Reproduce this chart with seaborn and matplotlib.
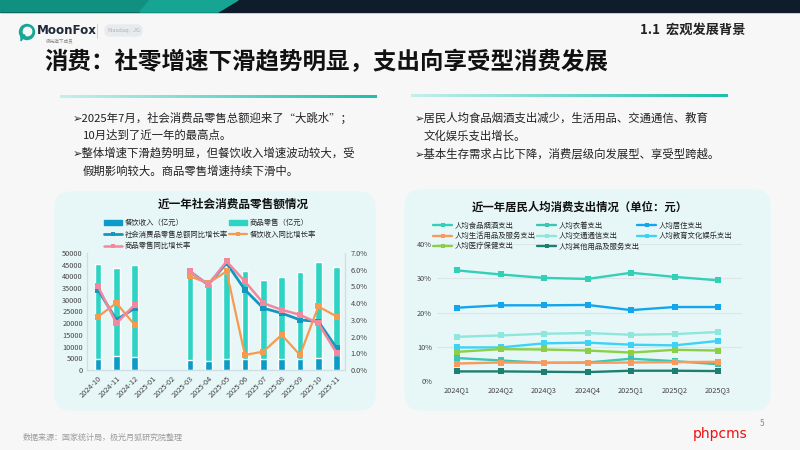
import numpy as np
import pandas as pd
import matplotlib.pyplot as plt
import seaborn as sns
from matplotlib.patches import FancyBboxPatch, Rectangle, Polygon, Circle, Patch
from matplotlib.lines import Line2D
from matplotlib.colors import LinearSegmentedColormap

sns.set_theme(style='white')
plt.rcParams['font.family'] = ['Noto Sans CJK SC', 'DejaVu Sans']
plt.rcParams['axes.unicode_minus'] = False

# ---- left chart data: retail sales (100m yuan) and yoy growth (%)
months = ['2024-10', '2024-11', '2024-12', '2025-01', '2025-02', '2025-03', '2025-04',
          '2025-05', '2025-06', '2025-07', '2025-08', '2025-09', '2025-10', '2025-11']
catering = [4700, 6000, 5700, None, None, 4300, 4000, 4700, 4700, 4700, 4700, 4700, 5100, 6400]
commodity = [40600, 37600, 39300, None, None, 36400, 33100, 36700, 37700, 33900, 34900, 37200, 41000, 37600]
retail_yoy = [4.8, 3.0, 3.7, None, None, 5.9, 5.1, 6.4, 4.8, 3.7, 3.4, 3.0, 2.9, 1.3]
catering_yoy = [3.2, 4.0, 2.7, None, None, 5.6, 5.2, 5.9, 0.9, 1.1, 2.1, 0.9, 3.8, 3.2]
commodity_yoy = [5.0, 2.8, 3.9, None, None, 5.9, 5.1, 6.5, 5.3, 4.0, 3.6, 3.3, 2.8, 1.0]

# ---- right chart data: share of per-capita spending (%)
quarters = ['2024Q1', '2024Q2', '2024Q3', '2024Q4', '2025Q1', '2025Q2', '2025Q3']
food = [32.3, 31.1, 30.1, 29.8, 31.6, 30.4, 29.4]
clothing = [6.7, 6.0, 5.3, 5.4, 6.5, 5.8, 4.9]
housing = [21.4, 22.1, 22.1, 22.2, 20.7, 21.6, 21.6]
household = [5.1, 5.4, 5.3, 5.3, 5.4, 5.5, 5.6]
transport = [12.9, 13.3, 13.8, 14.0, 13.5, 13.7, 14.3]
education = [9.8, 9.8, 11.0, 11.2, 10.6, 10.4, 11.7]
medical = [8.5, 9.3, 9.2, 8.9, 8.3, 9.1, 8.9]
other = [2.8, 2.8, 2.7, 2.6, 3.0, 3.0, 2.9]

series_names = ['人均食品烟酒支出', '人均衣着支出', '人均居住支出', '人均生活用品及服务支出',
                '人均交通通信支出', '人均教育文化娱乐支出', '人均医疗保健支出', '人均其他用品及服务支出']
series_vals = [food, clothing, housing, household, transport, education, medical, other]
series_colors = ['#33cfb6', '#3ac6b0', '#12a6ec', '#f79a5e', '#8fe6dc', '#3cd3f7', '#8ccf47', '#1c7f72']

W, H = 800, 450
def fx(x): return x / W
def fy(y): return 1 - y / H

fig = plt.figure(figsize=(8, 4.5), dpi=100)

# background canvas in pixel coordinates
bg = fig.add_axes([0, 0, 1, 1])
bg.set_zorder(-5)
bg.set_xlim(0, W)
bg.set_ylim(H, 0)
bg.axis('off')
bg.add_patch(Rectangle((0, 0), W, H, color='#f7f7f7', zorder=0))

# header band
bg.add_patch(Rectangle((0, 0), W, 12, color='#0e1c2b', zorder=1))
bg.add_patch(Polygon([(0, 0), (238, 0), (218, 12), (0, 12)], color='#10907f', zorder=2))
bg.add_patch(Polygon([(150, 0), (238, 0), (218, 12), (140, 12)], color='#17a593', zorder=2))

# logo
bg.add_patch(Circle((27, 32), 7.5, color='#16a896', zorder=3))
bg.add_patch(Circle((27.5, 31.5), 4.2, color='#f7f7f7', zorder=4))
bg.add_patch(Polygon([(21, 35), (25, 35), (21, 41)], color='#16a896', zorder=5))
bg.text(37, 31, 'MoonFox', fontsize=8.6, fontweight='bold', color='#1f2a36', va='center', family='DejaVu Sans')
bg.text(46, 41, '极光旗下成员', fontsize=3.3, color='#888888', va='center')
bg.plot([97, 97], [24, 38], color='#cccccc', lw=0.6)
bg.add_patch(FancyBboxPatch((105, 25), 37, 11, boxstyle='round,pad=0,rounding_size=5',
                            color='#e8ebee', zorder=3))
bg.text(123.5, 30.5, 'Nasdaq : JG', fontsize=4.2, color='#a8b0b8', ha='center', va='center', zorder=4)

bg.text(745, 30, '1.1  宏观发展背景', fontsize=9.5, fontweight='bold', color='#222222', ha='right', va='center')
bg.text(44, 62, '消费：社零增速下滑趋势明显，支出向享受型消费发展', fontsize=16.9, fontweight='bold',
        color='#111111', va='center')

# gradient separator lines
grad = LinearSegmentedColormap.from_list('g', ['#c4f0ea', '#1dbfae'])
gv = np.linspace(0, 1, 256).reshape(1, -1)
bg.imshow(gv, cmap=grad, extent=(60, 377, 98.5, 95.5), aspect='auto', zorder=3)
bg.imshow(gv, cmap=grad, extent=(411, 728, 97.5, 94.5), aspect='auto', zorder=3)
bg.set_xlim(0, W)
bg.set_ylim(H, 0)

fam = ['Noto Sans CJK SC', 'DejaVu Sans']
txt = dict(fontsize=8.2, color='#222222', va='center', family=fam)
bg.text(73, 118, '➢2025年7月，社会消费品零售总额迎来了“大跳水”；', **txt)
bg.text(83, 135, '10月达到了近一年的最高点。', **txt)
bg.text(73, 153, '➢整体增速下滑趋势明显，但餐饮收入增速波动较大，受', **txt)
bg.text(83, 171, '假期影响较大。商品零售增速持续下滑中。', **txt)
bg.text(415, 118, '➢居民人均食品烟酒支出减少，生活用品、交通通信、教育', **txt)
bg.text(424, 136, '文化娱乐支出增长。', **txt)
bg.text(415, 154, '➢基本生存需求占比下降，消费层级向发展型、享受型跨越。', **txt)

# chart panels
bg.add_patch(FancyBboxPatch((55, 192), 320, 218, boxstyle='round,pad=0,rounding_size=16',
                            color='#e7f7f7', zorder=1))
bg.add_patch(FancyBboxPatch((405, 190), 365, 220, boxstyle='round,pad=0,rounding_size=16',
                            color='#e7f7f7', zorder=1))
bg.text(233, 204, '近一年社会消费品零售额情况', fontsize=8.4, fontweight='bold', color='#111111',
        ha='center', va='center')
bg.text(580, 207, '近一年居民人均消费支出情况（单位：元）', fontsize=8.2, fontweight='bold', color='#111111',
        ha='center', va='center')

# footer
bg.text(23, 437, '数据来源：国家统计局，极光月狐研究院整理', fontsize=5.8, color='#9a9a9a', va='center')
bg.text(760, 424, '5', fontsize=6, color='#888888', va='center')
bg.text(693, 434, 'phpcms', fontsize=10, color='#ee1111', va='center', family='DejaVu Sans')

# ---- left chart
c_comm = '#2dd3c3'
c_cat = '#0a9bc6'
c_ret = '#1596bf'
c_orange = '#f79a50'
c_pink = '#f2879d'

df_bar = pd.DataFrame({'month': months, 'catering': catering, 'commodity': commodity})
df_bar = df_bar.dropna()
df_bar['stack_top'] = df_bar['catering'] + df_bar['commodity']

ax1 = fig.add_axes([fx(87), fy(370), (345 - 87) / W, (370 - 253) / H])
ax1.patch.set_visible(False)
sns.barplot(data=df_bar, x='month', y='stack_top', order=months, color=c_comm, width=0.36,
            saturation=1, ax=ax1)
sns.barplot(data=df_bar, x='month', y='catering', order=months, color=c_cat, width=0.36,
            saturation=1, ax=ax1)

df_line = pd.DataFrame({'pos': np.arange(len(months)), 'retail': retail_yoy,
                        'cat': catering_yoy, 'comm': commodity_yoy})
df_line['seg'] = df_line['retail'].isna().cumsum()
df_line = df_line.dropna()

ax2 = ax1.twinx()
for col, c, lw in [('retail', c_ret, 2.0), ('cat', c_orange, 1.6), ('comm', c_pink, 1.8)]:
    sns.lineplot(data=df_line, x='pos', y=col, units='seg', estimator=None, color=c, lw=lw,
                 marker='s', markersize=4, markeredgewidth=0, legend=False, ax=ax2)

ax1.set_ylim(0, 50000)
ax1.set_yticks(np.arange(0, 50001, 5000))
ax2.set_ylim(0, 7)
ax2.set_yticks(np.arange(0, 8, 1))
ax2.set_yticklabels([f'{v:.1f}%' for v in range(8)])
ax1.set_xticks(range(len(months)))
ax1.set_xticklabels(months, rotation=45, ha='right', rotation_mode='anchor')
ax1.set_xticks(np.arange(-0.5, len(months), 1), minor=True)
ax1.set_xlim(-0.6, 13.45)
for a in (ax1, ax2):
    a.set_xlabel('')
    a.set_ylabel('')
    for s in a.spines.values():
        s.set_color('#cfdde4')
        s.set_linewidth(0.8)
    a.spines['top'].set_visible(False)
ax1.tick_params(axis='x', which='major', length=0, labelsize=5.3, labelcolor='#444444', pad=3)
ax1.tick_params(axis='x', which='minor', length=2.5, color='#cfdde4', width=0.6)
ax1.tick_params(axis='y', length=0, labelsize=5.3, labelcolor='#444444', pad=3)
ax2.tick_params(axis='y', length=0, labelsize=5.3, labelcolor='#444444', pad=4)

leg_kw = dict(loc='upper left', frameon=False, fontsize=5.3, borderpad=0, borderaxespad=0,
              handletextpad=0.4, labelspacing=0.5, handlelength=2.4)
h_cat = Patch(color=c_cat)
h_comm = Patch(color=c_comm)
h_ret = Line2D([], [], color=c_ret, lw=2.0, marker='s', markersize=3.5, markeredgewidth=0)
h_oy = Line2D([], [], color=c_orange, lw=1.6, marker='s', markersize=3.5, markeredgewidth=0)
h_py = Line2D([], [], color=c_pink, lw=1.8, marker='s', markersize=3.5, markeredgewidth=0)
fig.legend([h_cat, h_ret, h_py], ['餐饮收入（亿元）', '社会消费品零售总额同比增长率', '商品零售同比增长率'],
           bbox_to_anchor=(fx(104), fy(219)), **leg_kw)
fig.legend([h_comm, h_oy], ['商品零售（亿元）', '餐饮收入同比增长率'],
           bbox_to_anchor=(fx(229), fy(219)), **leg_kw)

# ---- right chart
df_r = pd.concat([pd.DataFrame({'quarter': quarters, 'share': v, 'series': n})
                  for n, v in zip(series_names, series_vals)], ignore_index=True)
pal = dict(zip(series_names, series_colors))

ax3 = fig.add_axes([fx(437), fy(381), (742 - 437) / W, (381 - 244) / H])
ax3.patch.set_visible(False)
sns.lineplot(data=df_r, x='quarter', y='share', hue='series', hue_order=series_names, palette=pal,
             marker='s', markersize=4, markeredgewidth=0, lw=1.7, sort=False, legend=False, ax=ax3)
ax3.set_ylim(0, 40)
ax3.set_yticks([0, 10, 20, 30, 40])
ax3.set_yticklabels([f'{v}%' for v in [0, 10, 20, 30, 40]])
ax3.set_xlim(-0.46, 6.55)
ax3.set_xlabel('')
ax3.set_ylabel('')
ax3.yaxis.grid(True, color='#dde5e9', lw=0.8)
ax3.set_axisbelow(True)
for s in ax3.spines.values():
    s.set_visible(False)
ax3.tick_params(axis='both', length=0, labelsize=5.3, labelcolor='#444444')
ax3.tick_params(axis='x', pad=4)

hdl = {n: Line2D([], [], color=c, lw=1.7, marker='s', markersize=3.5, markeredgewidth=0)
       for n, c in zip(series_names, series_colors)}
leg_kw2 = dict(leg_kw, labelspacing=0.3, handlelength=2.6)
cols = [(433, [0, 3, 6]), (537, [1, 4, 7]), (637, [2, 5])]
for x0, idx in cols:
    fig.legend([hdl[series_names[i]] for i in idx], [series_names[i] for i in idx],
               bbox_to_anchor=(fx(x0), fy(222)), **leg_kw2)

fig.savefig('out.png', dpi=100)
